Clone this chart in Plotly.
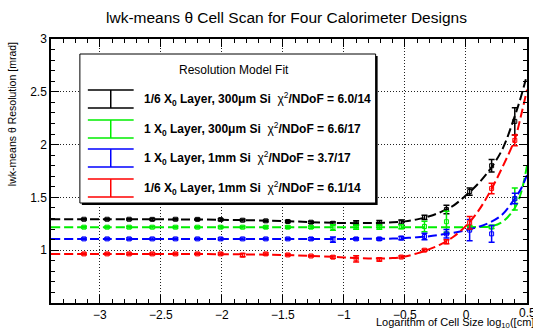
import plotly.graph_objects as go

# ---------------- data ----------------
cell_x = [-3.13, -2.94, -2.76, -2.57, -2.38, -2.20, -2.01, -1.83, -1.64, -1.46,
          -1.27, -1.09, -0.90, -0.71, -0.53, -0.34, -0.16, 0.03, 0.21, 0.40]

res_sixth_300 = [1.293, 1.293, 1.293, 1.292, 1.293, 1.292, 1.290, 1.284, 1.278, 1.272,
                 1.265, 1.255, 1.258, 1.260, 1.265, 1.310, 1.385, 1.555, 1.800, 2.220]
err_sixth_300 = [0.008, 0.008, 0.008, 0.008, 0.008, 0.008, 0.008, 0.008, 0.008, 0.010,
                 0.010, 0.012, 0.020, 0.022, 0.020, 0.020, 0.040, 0.035, 0.060, 0.130]

res_one_300 = [1.218, 1.218, 1.218, 1.218, 1.218, 1.218, 1.218, 1.218, 1.218, 1.218,
               1.218, 1.215, 1.218, 1.218, 1.222, 1.225, 1.270, 1.215, 1.220, 1.485]
err_one_300 = [0.008, 0.008, 0.008, 0.008, 0.008, 0.008, 0.008, 0.008, 0.010, 0.010,
               0.010, 0.025, 0.020, 0.020, 0.020, 0.050, 0.100, 0.020, 0.015, 0.105]

res_one_1mm = [1.107, 1.107, 1.107, 1.107, 1.107, 1.107, 1.107, 1.107, 1.107, 1.107,
               1.107, 1.100, 1.107, 1.107, 1.115, 1.130, 1.155, 1.190, 1.155, 1.490]
err_one_1mm = [0.008, 0.008, 0.008, 0.008, 0.008, 0.008, 0.008, 0.008, 0.008, 0.008,
               0.010, 0.025, 0.010, 0.012, 0.015, 0.030, 0.040, 0.100, 0.080, 0.050]

res_sixth_1mm = [0.965, 0.965, 0.965, 0.965, 0.965, 0.965, 0.965, 0.953, 0.965, 0.955,
                 0.945, 0.934, 0.918, 0.912, 0.935, 1.000, 1.080, 1.260, 1.585, 2.040]
err_sixth_1mm = [0.008, 0.008, 0.008, 0.008, 0.008, 0.008, 0.008, 0.015, 0.008, 0.008,
                 0.008, 0.010, 0.030, 0.015, 0.010, 0.010, 0.020, 0.060, 0.050, 0.050]

# resolution model fit curves
fit_x = [-3.4, -3.0, -2.5, -2.0, -1.5, -1.2, -1.0, -0.8, -0.6, -0.5, -0.4,
         -0.3, -0.2, -0.1, 0.0, 0.1, 0.2, 0.3, 0.4, 0.45, 0.5]
fit_sixth_300 = [1.293, 1.293, 1.292, 1.288, 1.276, 1.263, 1.257, 1.257, 1.264, 1.273, 1.292,
                 1.322, 1.365, 1.425, 1.520, 1.630, 1.770, 1.960, 2.270, 2.450, 2.660]
fit_one_300 = [1.218, 1.218, 1.218, 1.218, 1.218, 1.218, 1.218, 1.218, 1.218, 1.218, 1.218,
               1.218, 1.218, 1.218, 1.218, 1.220, 1.225, 1.270, 1.400, 1.540, 1.800]
fit_one_1mm = [1.107, 1.107, 1.107, 1.107, 1.107, 1.107, 1.107, 1.108, 1.110, 1.115, 1.123,
               1.132, 1.148, 1.165, 1.190, 1.220, 1.265, 1.340, 1.490, 1.580, 1.710]
fit_sixth_1mm = [0.965, 0.965, 0.964, 0.962, 0.955, 0.943, 0.932, 0.922, 0.925, 0.940, 0.970,
                 1.010, 1.060, 1.130, 1.230, 1.370, 1.560, 1.790, 2.050, 2.270, 2.520]

series_names = ["1/6 X<sub>0</sub> Layer, 300μm Si",
                "1 X<sub>0</sub> Layer, 300μm Si",
                "1 X<sub>0</sub> Layer, 1mm Si",
                "1/6 X<sub>0</sub> Layer, 1mm Si"]
chi2_text = ["6.0/14", "6.6/17", "3.7/17", "6.1/14"]
colors = ["#000000", "#00ee00", "#0000ff", "#ff0000"]

x_ticks = [-3, -2.5, -2, -1.5, -1, -0.5, 0]
x_edge_tick = 0.5
y_ticks = [1, 1.5, 2, 2.5, 3]

# ---------------- figure ----------------
W, H = 533, 329
L, R, T, B = 51, 4, 39, 26
pw, ph = W - L - R, H - T - B


def px(xp):
    return (xp - L) / pw


def py(yp):
    return (H - B - yp) / ph


fig = go.Figure()

res_all = [res_sixth_300, res_one_300, res_one_1mm, res_sixth_1mm]
err_all = [err_sixth_300, err_one_300, err_one_1mm, err_sixth_1mm]
fit_all = [fit_sixth_300, fit_one_300, fit_one_1mm, fit_sixth_1mm]

for name, res, err, fit, col in zip(series_names, res_all, err_all, fit_all, colors):
    fig.add_trace(go.Scatter(
        x=fit_x, y=fit, mode="lines", line=dict(color=col, width=2, dash="9px,4px", shape="spline"),
        showlegend=False, hoverinfo="skip"))
    fig.add_trace(go.Scatter(
        x=cell_x, y=res, mode="markers", name=name,
        marker=dict(symbol="square-open", size=4, color=col, line=dict(width=1, color=col)),
        error_y=dict(type="data", array=err, color=col, thickness=1.5, width=3),
        showlegend=False))

shapes = []
annotations = []

# legend box with shadow
shapes.append(dict(type="rect", xref="paper", yref="paper",
                   x0=px(82), x1=px(379), y0=py(205), y1=py(56),
                   fillcolor="black", line=dict(width=0), layer="above"))
shapes.append(dict(type="rect", xref="paper", yref="paper",
                   x0=px(80), x1=px(377), y0=py(203), y1=py(54),
                   fillcolor="white", line=dict(color="black", width=1), layer="above"))

annotations.append(dict(text="Resolution Model Fit", xref="paper", yref="paper",
                        x=px(235), y=py(70), xanchor="center", yanchor="middle",
                        showarrow=False, font=dict(size=12, color="black")))

entry_y = [99, 129, 158, 188]
for name, chi, col, ey in zip(series_names, chi2_text, colors, entry_y):
    for cy in (ey - 9, ey + 9):
        shapes.append(dict(type="line", xref="paper", yref="paper",
                           x0=px(88), x1=px(134), y0=py(cy), y1=py(cy),
                           line=dict(color=col, width=1.5), layer="above"))
    shapes.append(dict(type="line", xref="paper", yref="paper",
                       x0=px(111), x1=px(111), y0=py(ey - 9), y1=py(ey + 9),
                       line=dict(color=col, width=1.5), layer="above"))
    annotations.append(dict(
        text="<b>" + name + "</b>\u00a0 χ<sup>2</sup><b>/NDoF = " + chi + "</b>",
        xref="paper", yref="paper", x=px(142), y=py(ey),
        xanchor="left", yanchor="middle", showarrow=False,
        font=dict(size=12, color="black")))

# titles
annotations.append(dict(text="lwk-means θ Cell Scan for Four Calorimeter Designs",
                        xref="paper", yref="paper", x=px(287), y=py(17),
                        xanchor="center", yanchor="middle", showarrow=False,
                        font=dict(size=15.5, color="black")))
annotations.append(dict(text="Logarithm of Cell Size log<sub>10</sub>([cm])",
                        xref="paper", yref="paper", x=px(375), y=py(323),
                        xanchor="left", yanchor="middle", showarrow=False,
                        font=dict(size=11, color="black")))
annotations.append(dict(text="lwk-means θ Resolution [mrad]",
                        xref="paper", yref="paper", x=px(12), y=py(40),
                        xanchor="center", yanchor="top", textangle=-90, showarrow=False,
                        font=dict(size=10.5, color="black")))
# tick label at the right edge of the x axis (partly cut by the canvas edge)
annotations.append(dict(text=str(x_edge_tick), xref="x", yref="paper",
                        x=x_edge_tick, y=py(313), xanchor="center", yanchor="middle",
                        showarrow=False, font=dict(size=12, color="black")))

grid_style = dict(showgrid=True, gridcolor="#222222", gridwidth=1, griddash="1px,2px")

fig.update_layout(
    width=W, height=H,
    margin=dict(l=L, r=R, t=T, b=B, pad=0),
    paper_bgcolor="white", plot_bgcolor="white",
    font=dict(family="Liberation Sans, Arial, sans-serif", color="black"),
    shapes=shapes, annotations=annotations, showlegend=False,
    xaxis=dict(range=[-3.4, 0.5], tickvals=x_ticks + [x_edge_tick],
               ticktext=[("−" + str(abs(v))) if v < 0 else str(v) for v in x_ticks] + [""],
               ticks="inside", ticklen=8,
               tickwidth=1, tickcolor="black", showline=True, linecolor="black",
               linewidth=1.5, mirror="ticks", zeroline=False,
               tickfont=dict(size=12),
               minor=dict(ticks="inside", ticklen=4, dtick=0.1, tick0=0,
                          tickcolor="black", showgrid=False),
               **grid_style),
    yaxis=dict(range=[0.5, 3.0], tickvals=y_ticks, ticks="inside", ticklen=8,
               tickwidth=1, tickcolor="black", showline=True, linecolor="black",
               linewidth=1.5, mirror="ticks", zeroline=False,
               tickfont=dict(size=12),
               minor=dict(ticks="inside", ticklen=4, dtick=0.1, tick0=0,
                          tickcolor="black", showgrid=False),
               **grid_style),
)

fig.write_html("out.html")
